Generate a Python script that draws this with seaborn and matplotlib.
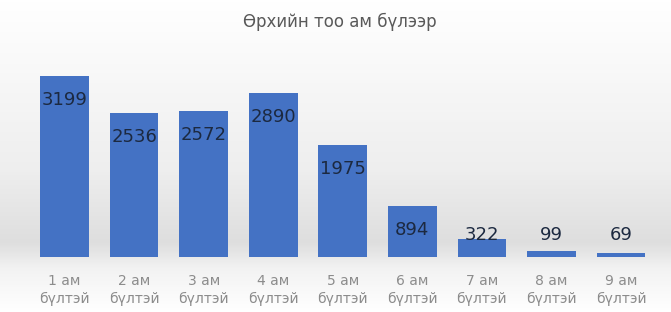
import numpy as np
import seaborn as sns
import matplotlib.pyplot as plt
from matplotlib.colors import LinearSegmentedColormap

# ── Data ────────────────────────────────────────────────────────────
categories = ["1 ам\nбүлтэй", "2 ам\nбүлтэй", "3 ам\nбүлтэй", "4 ам\nбүлтэй", "5 ам\nбүлтэй",
              "6 ам\nбүлтэй", "7 ам\nбүлтэй", "8 ам\nбүлтэй", "9 ам\nбүлтэй"]
households = [3199, 2536, 2572, 2890, 1975, 894, 322, 99, 69]
title = "Өрхийн тоо ам бүлээр"

sns.set_style("white")
plt.rcParams['font.family'] = ['DejaVu Sans']

fig = plt.figure(figsize=(6.71, 3.12), dpi=100)

# ── Background gradient (white -> light grey behind bars -> white) ─
bg = fig.add_axes([0, 0, 1, 1], zorder=0)
grad_cmap = LinearSegmentedColormap.from_list(
    "bg", [(0.0, "#ffffff"), (0.20, "#f9f9f9"), (0.55, "#eeeeee"),
           (0.78, "#dedede"), (0.86, "#f2f2f2"), (1.0, "#ffffff")])
bg.imshow(np.linspace(0, 1, 312).reshape(-1, 1), aspect="auto", cmap=grad_cmap,
          extent=[0, 1, 0, 1], origin="upper")
bg.axis("off")

# ── Bars ────────────────────────────────────────────────────────────
ax = fig.add_axes([0.0443, 0.1763, 0.933, 0.635], zorder=1)
ax.patch.set_alpha(0)
sns.barplot(x=categories, y=households, color="#4472c4", saturation=1,
            width=0.7, linewidth=0, ax=ax)
ax.set_xlim(-0.5, len(categories) - 0.5)
ax.set_ylim(0, 3500)

# data labels: inside the top of the bar, but never lower than a floor
for i, v in enumerate(households):
    ax.text(i, max(v - 424, 389), str(v), ha="center", va="center",
            fontsize=13, color="#1c2940")

sns.despine(ax=ax, left=True, bottom=True)
ax.set_yticks([])
ax.tick_params(axis="x", length=0, pad=12, labelsize=10, labelcolor="#8c8c8c")
for lbl in ax.get_xticklabels():
    lbl.set_linespacing(1.35)

fig.text(0.507, 0.93, title, ha="center", va="center", fontsize=12, color="#595959")

plt.savefig("out.png", dpi=100)
plt.close()
